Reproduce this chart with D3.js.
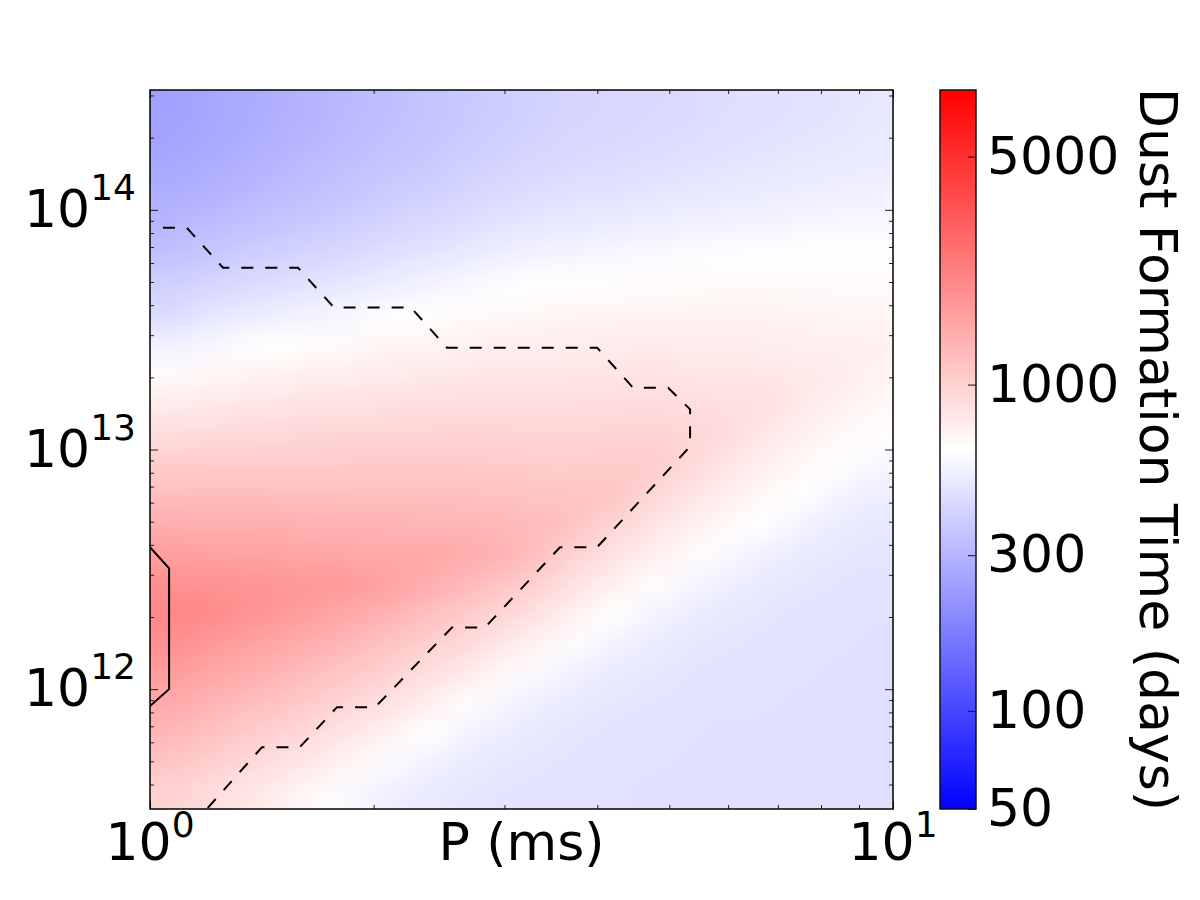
<!DOCTYPE html>
<html>
<head>
<meta charset="utf-8">
<script src="https://cdn.jsdelivr.net/npm/d3@7"></script>
<style>
  body { margin: 0; background: #fff; }
  svg { display: block; font-family: "DejaVu Sans", sans-serif; }
</style>
</head>
<body>
<svg id="chart" width="1200" height="900"></svg>
<script>
// ---- data ----
// cell centres of the grid
const periodMs = [1.059, 1.189, 1.334, 1.496, 1.679, 1.884, 2.113, 2.371, 2.661, 2.985,
                  3.350, 3.758, 4.217, 4.732, 5.309, 5.957, 6.683, 7.499, 8.414, 9.441];
const fieldG = [2.738e14, 2.054e14, 1.540e14, 1.155e14, 8.660e13, 6.494e13, 4.870e13, 3.652e13,
                2.738e13, 2.054e13, 1.540e13, 1.155e13, 8.660e12, 6.494e12, 4.870e12, 3.652e12,
                2.738e12, 2.054e12, 1.540e12, 1.155e12, 8.660e11, 6.494e11, 4.870e11, 3.652e11];

// dust formation time in days: one array per period column, values follow fieldG (top to bottom)
const dustDays = [
  [249, 254, 266, 284, 309, 346, 397, 440, 552, 662, 770, 898, 1040, 1213, 1412, 1644, 1913, 2064, 1904, 1669, 1470, 1288, 1128, 993],
  [262, 267, 280, 298, 325, 364, 416, 486, 581, 686, 790, 911, 1055, 1219, 1405, 1619, 1875, 2022, 1764, 1547, 1348, 1182, 1034, 902],
  [274, 280, 292, 313, 342, 383, 437, 512, 610, 707, 811, 925, 1061, 1219, 1398, 1594, 1828, 1875, 1635, 1426, 1238, 1077, 939, 819],
  [288, 294, 308, 329, 360, 403, 460, 538, 639, 725, 828, 939, 1066, 1213, 1383, 1570, 1782, 1737, 1508, 1308, 1134, 983, 853, 740],
  [303, 309, 324, 346, 377, 422, 484, 563, 658, 744, 840, 948, 1066, 1206, 1362, 1539, 1737, 1611, 1391, 1200, 1034, 893, 770, 665],
  [319, 325, 341, 364, 397, 444, 507, 592, 679, 759, 853, 953, 1072, 1200, 1348, 1508, 1694, 1478, 1263, 1082, 930, 799, 686, 587],
  [335, 342, 358, 383, 418, 467, 533, 623, 697, 778, 866, 963, 1077, 1200, 1335, 1493, 1562, 1335, 1139, 973, 832, 714, 607, 540],
  [351, 358, 375, 401, 437, 489, 560, 645, 714, 790, 880, 973, 1077, 1194, 1322, 1470, 1412, 1200, 1019, 871, 740, 629, 549, 512],
  [370, 377, 395, 422, 460, 514, 587, 662, 729, 803, 889, 978, 1077, 1188, 1308, 1441, 1275, 1077, 911, 770, 655, 563, 517, 494],
  [389, 397, 414, 442, 484, 538, 613, 679, 740, 811, 884, 968, 1061, 1157, 1269, 1342, 1128, 953, 803, 676, 578, 525, 499, 484],
  [405, 414, 431, 460, 501, 560, 635, 690, 747, 815, 884, 963, 1045, 1134, 1238, 1169, 988, 832, 704, 595, 533, 504, 486, 477],
  [416, 424, 442, 472, 514, 572, 642, 697, 755, 819, 889, 963, 1040, 1128, 1134, 973, 836, 718, 613, 543, 507, 489, 479, 474],
  [424, 433, 451, 481, 525, 587, 652, 707, 766, 828, 898, 973, 1055, 1116, 968, 844, 732, 639, 554, 514, 491, 481, 474, 472],
  [435, 444, 462, 494, 538, 598, 658, 714, 770, 832, 902, 973, 1050, 958, 844, 744, 655, 569, 522, 496, 484, 477, 472, 469],
  [444, 453, 472, 504, 549, 610, 665, 714, 766, 823, 884, 948, 930, 832, 747, 669, 584, 527, 499, 484, 477, 472, 469, 467],
  [455, 464, 484, 514, 560, 620, 669, 714, 762, 815, 871, 907, 823, 747, 679, 604, 538, 504, 486, 479, 474, 469, 469, 467],
  [464, 474, 494, 525, 569, 629, 669, 714, 759, 807, 857, 807, 744, 682, 625, 549, 509, 491, 481, 474, 472, 469, 467, 467],
  [474, 484, 504, 535, 578, 635, 669, 707, 744, 786, 786, 732, 686, 639, 560, 517, 494, 481, 474, 472, 469, 467, 467, 467],
  [484, 494, 514, 543, 587, 635, 669, 700, 736, 770, 725, 686, 645, 575, 525, 496, 484, 477, 472, 469, 467, 467, 467, 467],
  [496, 507, 525, 552, 592, 639, 665, 697, 725, 714, 682, 652, 592, 533, 501, 486, 479, 472, 469, 467, 467, 467, 467, 467]
];

// contour lines (P in ms, B in G)
const dashedP = [1.041, 1.121, 1.254, 1.582, 1.769, 2.245, 2.510, 3.997, 4.468, 4.981, 5.332, 5.332,
                 3.997, 3.563, 2.824, 2.550, 2.009, 1.785, 1.591, 1.415, 1.180];
const dashedB = [8.41e13, 8.41e13, 5.73e13, 5.73e13, 3.91e13, 3.91e13, 2.66e13, 2.66e13, 1.81e13, 1.81e13, 1.47e13, 1.03e13,
                 3.91e12, 3.91e12, 1.81e12, 1.81e12, 8.41e11, 8.41e11, 5.73e11, 5.73e11, 3.05e11];
const solidP = [1.0, 1.061, 1.061, 1.0];
const solidB = [3.91e12, 3.19e12, 1.0e12, 8.5e11];

const xMajor = [1, 10];
const yMajor = [1e12, 1e13, 1e14];
const yExp = ['12', '13', '14'];
const cbTicks = [50, 100, 300, 1000, 5000];
const cbMin = 50, cbMax = 8000;

// ---- layout ----
const svg = d3.select('#chart');
const margin = { left: 150, top: 90 };
const width = 743, height = 719;

const x = d3.scaleLog().domain([1, 10]).range([margin.left, margin.left + width]);
const y = d3.scaleLog().domain([Math.pow(10, 11.5), Math.pow(10, 14.5)]).range([margin.top + height, margin.top]);

// bwr colormap on a log norm
const norm = d3.scaleLog().domain([cbMin, cbMax]).range([0, 1]).clamp(true);
function bwr(t) {
  if (t < 0.5) {
    const c = Math.round(2 * t * 255);
    return [c, c, 255];
  }
  const c = Math.round(2 * (1 - t) * 255);
  return [255, c, c];
}
const colour = (v) => bwr(norm(v));

// ---- heatmap: small image of the grid, smoothly upscaled ----
const nx = periodMs.length, ny = fieldG.length;
const small = document.createElement('canvas');
small.width = nx + 2; small.height = ny + 2;
const sctx = small.getContext('2d');
const img = sctx.createImageData(nx + 2, ny + 2);
for (let j = 0; j < ny + 2; j++) {
  for (let i = 0; i < nx + 2; i++) {
    const jj = Math.min(ny - 1, Math.max(0, j - 1));
    const ii = Math.min(nx - 1, Math.max(0, i - 1));
    const c = colour(dustDays[ii][jj]);
    const k = (j * (nx + 2) + i) * 4;
    img.data[k] = c[0]; img.data[k + 1] = c[1]; img.data[k + 2] = c[2]; img.data[k + 3] = 255;
  }
}
sctx.putImageData(img, 0, 0);

const halfX = (x(periodMs[1]) - x(periodMs[0])) / 2;
const halfY = (y(fieldG[1]) - y(fieldG[0])) / 2;
const hmLeft = x(periodMs[0]) - halfX, hmRight = x(periodMs[nx - 1]) + halfX;
const hmTop = y(fieldG[0]) - halfY, hmBottom = y(fieldG[ny - 1]) + halfY;

const big = document.createElement('canvas');
big.width = width; big.height = height;
const bctx = big.getContext('2d');
bctx.imageSmoothingEnabled = true;
bctx.imageSmoothingQuality = 'high';
bctx.drawImage(small, 1, 1, nx, ny, hmLeft - margin.left, hmTop - margin.top, hmRight - hmLeft, hmBottom - hmTop);

svg.append('image')
  .attr('x', margin.left).attr('y', margin.top)
  .attr('width', width).attr('height', height)
  .attr('preserveAspectRatio', 'none')
  .attr('href', big.toDataURL());

// clip for contours
svg.append('clipPath').attr('id', 'plotclip')
  .append('rect').attr('x', margin.left).attr('y', margin.top).attr('width', width).attr('height', height);

const line = d3.line().x((d) => x(d[0])).y((d) => y(d[1]));

svg.append('path')
  .datum(dashedP.map((p, i) => [p, dashedB[i]]))
  .attr('d', line)
  .attr('clip-path', 'url(#plotclip)')
  .attr('fill', 'none').attr('stroke', '#000').attr('stroke-width', 2)
  .attr('stroke-dasharray', '12,12');

svg.append('path')
  .datum(solidP.map((p, i) => [p, solidB[i]]))
  .attr('d', line)
  .attr('clip-path', 'url(#plotclip)')
  .attr('fill', 'none').attr('stroke', '#000').attr('stroke-width', 2);

// ---- ticks (inward, on all four sides) ----
const xMinor = [];
for (let m = 2; m <= 9; m++) xMinor.push(m);
const yMinor = [];
[1e11, 1e12, 1e13, 1e14].forEach((d) => {
  for (let m = 2; m <= 9; m++) {
    const v = m * d;
    if (v >= y.domain()[0] && v <= y.domain()[1]) yMinor.push(v);
  }
});

function tickAxis(axisFn, scale, values, size, transform) {
  const g = svg.append('g')
    .attr('transform', transform)
    .call(axisFn(scale).tickValues(values).tickSizeInner(-size).tickSizeOuter(0).tickFormat(''));
  g.select('.domain').remove();
  g.selectAll('line').attr('stroke', '#222').attr('stroke-width', 1);
}
tickAxis(d3.axisBottom, x, xMajor, 8, `translate(0,${margin.top + height})`);
tickAxis(d3.axisBottom, x, xMinor, 4, `translate(0,${margin.top + height})`);
tickAxis(d3.axisTop, x, xMajor, 8, `translate(0,${margin.top})`);
tickAxis(d3.axisTop, x, xMinor, 4, `translate(0,${margin.top})`);
tickAxis(d3.axisLeft, y, yMajor, 8, `translate(${margin.left},0)`);
tickAxis(d3.axisLeft, y, yMinor, 4, `translate(${margin.left},0)`);
tickAxis(d3.axisRight, y, yMajor, 8, `translate(${margin.left + width},0)`);
tickAxis(d3.axisRight, y, yMinor, 4, `translate(${margin.left + width},0)`);

// frame
svg.append('rect')
  .attr('x', margin.left).attr('y', margin.top)
  .attr('width', width).attr('height', height)
  .attr('fill', 'none').attr('stroke', '#000').attr('stroke-width', 1.5);

// ---- tick labels ----
const xt = svg.selectAll('.xt').data(xMajor).enter().append('text')
  .attr('class', 'xt')
  .attr('x', (d) => x(d)).attr('y', 860)
  .attr('text-anchor', 'middle')
  .style('font-size', '52px');
xt.append('tspan').text('10');
xt.append('tspan').attr('dy', -23).style('font-size', '36px').text((d) => String(Math.round(Math.log10(d))));

const yt = svg.selectAll('.yt').data(yMajor).enter().append('text')
  .attr('class', 'yt')
  .attr('x', 136).attr('y', (d) => y(d) + 17)
  .attr('text-anchor', 'end')
  .style('font-size', '52px');
yt.append('tspan').text('10');
yt.append('tspan').attr('dy', -27).style('font-size', '36px').text((d, i) => yExp[i]);

svg.append('text')
  .attr('x', margin.left + width / 2).attr('y', 860)
  .attr('text-anchor', 'middle')
  .style('font-size', '52px')
  .text('P (ms)');

// ---- colorbar ----
const cbX = 940, cbW = 36;
const cb = d3.scaleLog().domain([cbMin, cbMax]).range([margin.top + height, margin.top]);

const grad = svg.append('defs').append('linearGradient')
  .attr('id', 'cbgrad')
  .attr('x1', 0).attr('y1', 1).attr('x2', 0).attr('y2', 0);
d3.range(0, 1.0001, 0.05).forEach((t) => {
  const c = colour(cb.invert(margin.top + height - t * height));
  grad.append('stop').attr('offset', t).attr('stop-color', `rgb(${c[0]},${c[1]},${c[2]})`);
});

svg.append('rect')
  .attr('x', cbX).attr('y', margin.top)
  .attr('width', cbW).attr('height', height)
  .attr('fill', 'url(#cbgrad)')
  .attr('stroke', '#111').attr('stroke-width', 1.5);

const cbAxis = svg.append('g')
  .attr('transform', `translate(${cbX + cbW},0)`)
  .call(d3.axisLeft(cb).tickValues(cbTicks).tickSizeInner(8).tickSizeOuter(0).tickFormat(''));
cbAxis.select('.domain').remove();
cbAxis.selectAll('line').attr('stroke', '#111');

svg.selectAll('.cbt').data(cbTicks).enter().append('text')
  .attr('class', 'cbt')
  .attr('x', 987).attr('y', (d) => cb(d) + 17)
  .style('font-size', '52px')
  .text((d) => d);

svg.append('text')
  .attr('transform', `translate(1140,${margin.top + height / 2}) rotate(90)`)
  .attr('text-anchor', 'middle')
  .style('font-size', '52px')
  .text('Dust Formation Time (days)');
</script>
</body>
</html>
